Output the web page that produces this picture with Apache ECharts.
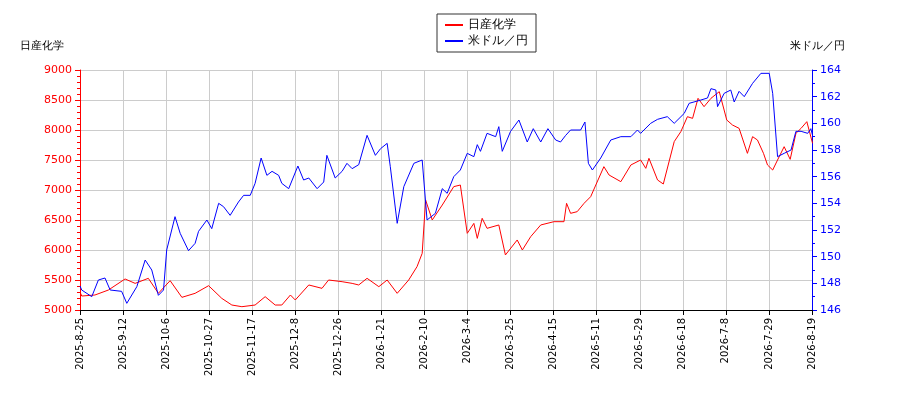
<!DOCTYPE html>
<html><head><meta charset="utf-8">
<script src="https://cdn.jsdelivr.net/npm/echarts@6/dist/echarts.min.js"></script>
<style>html,body{margin:0;padding:0;background:#fff}#c{width:900px;height:400px}</style>
</head><body><div id="c"></div>
<script>
const tickLabels = ['2025-8-25','2025-9-12','2025-10-6','2025-10-27','2025-11-17','2025-12-8','2025-12-26','2026-1-21','2026-2-10','2026-3-4','2026-3-25','2026-4-15','2026-5-11','2026-5-29','2026-6-18','2026-7-8','2026-7-29','2026-8-19'];
// x: trading-day index (15 per label step)
const stockT = [0,0.6,5.2,9.9,15.7,19.2,23.8,27.3,31.4,35.5,40.1,44.8,49.4,52.9,56.4,61.0,64.5,68.0,70.3,73.3,75.0,79.7,84.3,86.6,91.3,94.8,97.1,100.0,104.1,107.0,110.5,114.5,117.4,119.2,120.4,122.7,126.2,130.2,132.5,134.9,137.2,138.4,140.1,141.8,145.9,148.2,152.3,154.1,157.0,160.5,165.1,168.6,169.5,170.9,173.2,175.6,177.9,182.5,184.3,188.4,191.9,195.3,197.1,198.2,201.2,203.2,207.0,209.3,211.6,213.4,215.3,217.4,219.8,222.7,225.3,227.3,229.6,232.5,234.3,236.0,238.1,239.5,241.3,243.0,245.3,247.4,249.4,251.2,253.2,255.2];
const stockV = [5300,5233,5250,5333,5517,5444,5528,5278,5489,5211,5278,5405,5194,5083,5055,5083,5222,5083,5083,5250,5167,5417,5361,5500,5472,5444,5417,5528,5389,5500,5278,5500,5722,5944,6833,6500,6750,7056,7083,6278,6444,6194,6528,6361,6417,5917,6167,6000,6222,6417,6472,6472,6778,6611,6639,6778,6889,7389,7250,7139,7417,7500,7361,7528,7167,7100,7806,7972,8222,8194,8528,8389,8528,8639,8167,8083,8028,7611,7889,7833,7611,7417,7333,7500,7722,7511,7944,8028,8139,7778];
const fxT = [0,0.6,4.1,6.4,8.7,10.5,14.5,16.3,19.8,22.7,25.0,27.3,29.1,30.2,33.1,34.9,37.8,40.1,41.3,44.2,45.9,48.3,50.0,52.3,55.2,57.0,59.3,61.0,63.1,65.1,66.9,69.2,70.3,72.7,75.9,77.9,79.7,82.6,84.9,86.0,88.9,91.3,93.0,94.8,97.1,100.0,102.9,104.7,107.0,108.1,110.5,112.8,116.3,119.2,120.9,123.8,126.2,127.9,130.2,132.5,134.9,137.2,138.4,139.5,141.8,144.8,145.9,147.1,150.0,152.9,155.8,157.9,160.5,163.0,165.7,167.4,169.2,170.9,174.4,175.9,177.1,178.5,181.4,184.9,188.4,191.9,194.2,195.3,198.8,201.2,204.6,207.0,210.5,212.2,216.3,218.6,219.8,221.5,222.1,224.4,226.7,227.9,229.6,231.4,234.3,237.2,240.1,241.3,243.0,245.3,247.7,249.4,251.2,253.5,254.6,256];
const fxV = [147.8,147.5,147.0,148.25,148.4,147.5,147.4,146.5,147.75,149.75,149.0,147.1,147.5,150.5,153.0,151.75,150.45,151.0,151.9,152.75,152.1,154.0,153.75,153.1,154.1,154.6,154.6,155.5,157.4,156.1,156.4,156.1,155.5,155.1,156.8,155.75,155.9,155.1,155.6,157.6,155.9,156.4,157.0,156.6,156.9,159.1,157.6,158.1,158.5,156.75,152.5,155.25,157.0,157.25,152.75,153.25,155.1,154.75,156.0,156.5,157.75,157.5,158.4,157.9,159.25,159.0,159.75,157.9,159.4,160.25,158.6,159.6,158.6,159.6,158.75,158.6,159.1,159.5,159.5,160.1,157.0,156.5,157.4,158.75,159.0,159.0,159.5,159.25,160.0,160.3,160.5,160.0,160.75,161.5,161.75,161.9,162.6,162.5,161.25,162.25,162.5,161.6,162.4,162.0,163.0,163.75,163.75,162.25,157.5,157.75,158.0,159.4,159.4,159.25,159.6,158.4];
const STEP = 15;
const stockData = stockT.map((t,i)=>[t,stockV[i]]);
const fxData = fxT.map((t,i)=>[t,fxV[i]]);
const font = 'DejaVu Sans';
const chart = echarts.init(document.getElementById('c'));
chart.setOption({
  animation:false,
  textStyle:{fontFamily:font},
  legend:{top:14,left:437,orient:'vertical',itemWidth:18,itemHeight:2,borderColor:'#333',borderWidth:1,padding:[5,8],itemGap:4,
    textStyle:{fontSize:12,color:'#000'},data:[{name:'日産化学',icon:'rect'},{name:'米ドル／円',icon:'rect'}]},
  grid:{left:80,right:88,top:70,bottom:90},
  xAxis:{type:'value',min:0,max:(tickLabels.length-1)*STEP,interval:STEP,
    axisLine:{lineStyle:{color:'#000'}},axisTick:{lineStyle:{color:'#000'}},
    splitLine:{show:true,lineStyle:{color:'#ccc'}},
    axisLabel:{rotate:90,fontSize:10,color:'#000',formatter:v=>tickLabels[Math.round(v/STEP)]||''}},
  yAxis:[
    {type:'value',min:5000,max:9000,interval:500,name:'日産化学',nameLocation:'end',nameGap:18,
     nameTextStyle:{color:'#000',fontSize:11,align:'left',padding:[0,0,0,-60]},
     axisLine:{show:true,lineStyle:{color:'red'}},axisTick:{show:true,lineStyle:{color:'red'}},
     minorTick:{show:true,splitNumber:5,lineStyle:{color:'red'}},
     axisLabel:{color:'red',fontSize:11,formatter:v=>String(v)},splitLine:{lineStyle:{color:'#ccc'}}},
    {type:'value',min:146,max:164,interval:2,name:'米ドル／円',nameLocation:'end',nameGap:18,
     nameTextStyle:{color:'#000',fontSize:11,align:'left',padding:[0,0,0,-22]},
     axisLine:{show:true,lineStyle:{color:'blue'}},axisTick:{show:true,lineStyle:{color:'blue'}},
     minorTick:{show:true,splitNumber:2,lineStyle:{color:'blue'}},
     axisLabel:{color:'blue',fontSize:11},splitLine:{show:false}}
  ],
  series:[
    {name:'日産化学',type:'line',data:stockData,yAxisIndex:0,showSymbol:false,lineStyle:{color:'red',width:1},itemStyle:{color:'red'}},
    {name:'米ドル／円',type:'line',data:fxData,yAxisIndex:1,showSymbol:false,lineStyle:{color:'blue',width:1},itemStyle:{color:'blue'}}
  ]
});
</script></body></html>
